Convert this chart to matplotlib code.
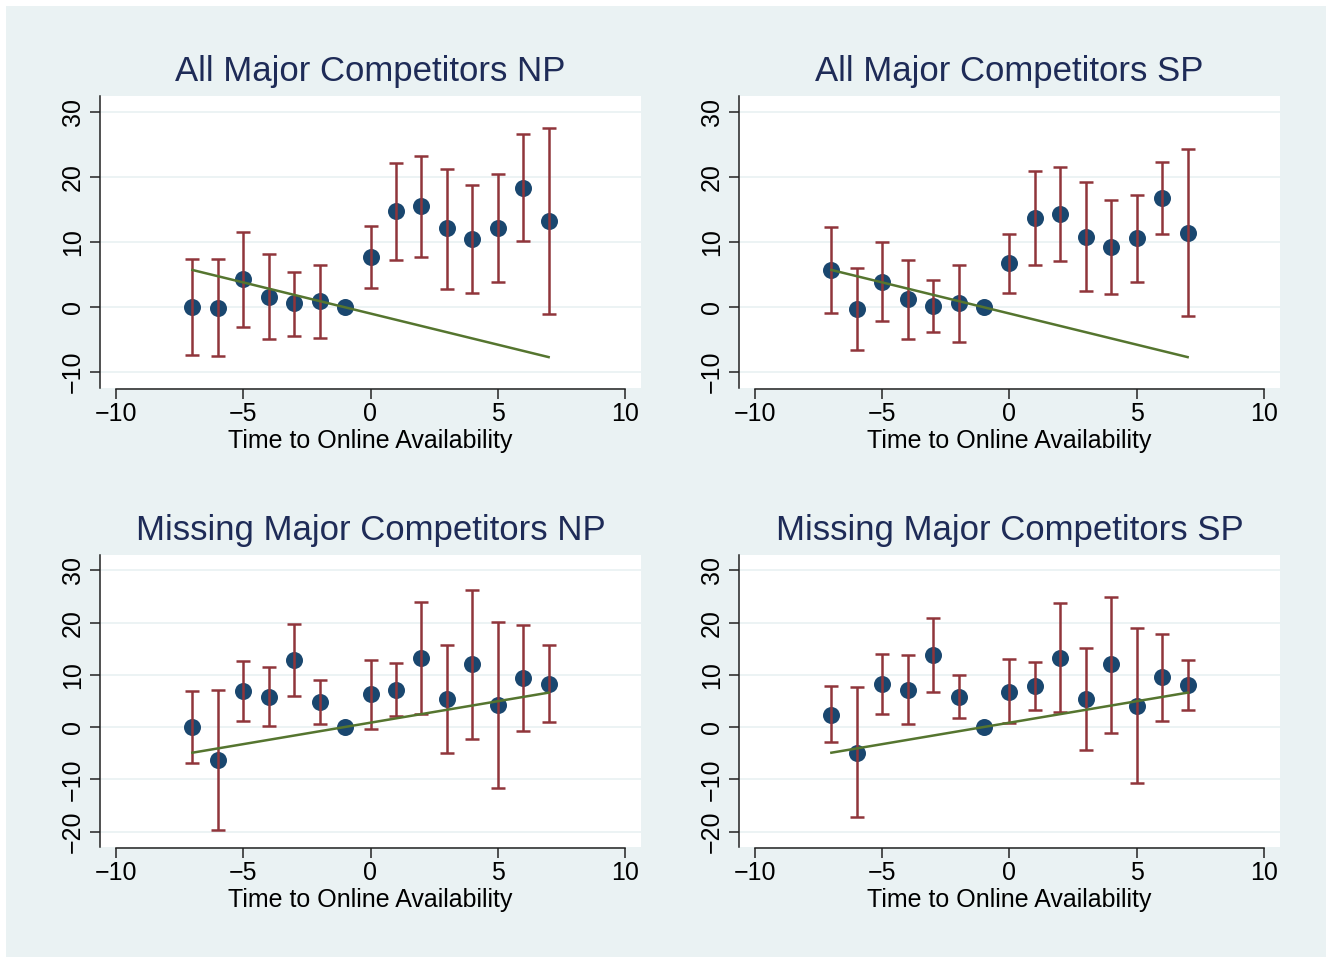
import matplotlib
matplotlib.use("Agg")
import matplotlib.pyplot as plt
import numpy as np

plt.rcParams['font.family'] = ['Liberation Sans', 'DejaVu Sans']

# ---------------- data ----------------
periods = [-7, -6, -5, -4, -3, -2, -1, 0, 1, 2, 3, 4, 5, 6, 7]

titles = ["All Major Competitors NP", "All Major Competitors SP",
          "Missing Major Competitors NP", "Missing Major Competitors SP"]

# panel 1: All Major Competitors NP
p1_est = [0.0, -0.1, 4.3, 1.6, 0.6, 0.9, 0.0, 7.7, 14.7, 15.5, 12.1, 10.4, 12.2, 18.3, 13.3]
p1_hi  = [7.4, 7.4, 11.6, 8.1, 5.4, 6.5, 0.0, 12.4, 22.1, 23.3, 21.3, 18.7, 20.4, 26.6, 27.5]
p1_lo  = [-7.3, -7.6, -3.0, -4.9, -4.4, -4.8, 0.0, 2.9, 7.3, 7.7, 2.8, 2.2, 3.8, 10.2, -1.0]

# panel 2: All Major Competitors SP
p2_est = [5.7, -0.3, 3.9, 1.2, 0.1, 0.6, 0.0, 6.7, 13.7, 14.3, 10.8, 9.2, 10.6, 16.8, 11.4]
p2_hi  = [12.3, 6.0, 10.0, 7.2, 4.2, 6.5, 0.0, 11.2, 20.9, 21.5, 19.2, 16.5, 17.2, 22.3, 24.3]
p2_lo  = [-0.9, -6.6, -2.1, -4.9, -3.9, -5.4, 0.0, 2.2, 6.4, 7.1, 2.4, 2.0, 3.9, 11.3, -1.4]

# panel 3: Missing Major Competitors NP
p3_est = [0.1, -6.2, 6.9, 5.8, 12.9, 4.8, 0.0, 6.3, 7.2, 13.2, 5.4, 12.1, 4.2, 9.4, 8.3]
p3_hi  = [7.0, 7.2, 12.7, 11.5, 19.8, 9.1, 0.0, 12.9, 12.3, 23.9, 15.8, 26.3, 20.1, 19.6, 15.7]
p3_lo  = [-6.8, -19.6, 1.1, 0.3, 6.0, 0.6, 0.0, -0.3, 2.2, 2.6, -4.9, -2.2, -11.6, -0.8, 0.9]

# panel 4: Missing Major Competitors SP
p4_est = [2.4, -4.9, 8.3, 7.2, 13.9, 5.8, 0.0, 6.8, 7.9, 13.3, 5.4, 12.0, 4.1, 9.5, 8.0]
p4_hi  = [7.8, 7.7, 14.0, 13.9, 20.9, 10.0, 0.0, 13.0, 12.4, 23.7, 15.2, 25.0, 18.9, 17.9, 12.9]
p4_lo  = [-2.9, -17.3, 2.6, 0.6, 6.8, 1.8, 0.0, 0.8, 3.3, 2.9, -4.4, -1.1, -10.7, 1.2, 3.2]

# linear trend lines (endpoints)
trend_x = [-7, 7]
trend_top = [5.7, -7.7]
trend_bottom = [-4.9, 6.6]

est = [p1_est, p2_est, p3_est, p4_est]
his = [p1_hi, p2_hi, p3_hi, p4_hi]
los = [p1_lo, p2_lo, p3_lo, p4_lo]
trends = [trend_top, trend_top, trend_bottom, trend_bottom]

x_ticks = [-10, -5, 0, 5, 10]
y_ticks_top = [-10, 0, 10, 20, 30]
y_ticks_bottom = [-20, -10, 0, 10, 20, 30]

# ---------------- style ----------------
BG = '#EAF2F3'
NAVY = '#1A476F'
MAROON = '#90353B'
GREEN = '#55752F'
TITLE = '#1E2B57'

W, H = 1332, 963
fig = plt.figure(figsize=(W / 100, H / 100), dpi=100)
fig.patch.set_facecolor('white')
# light background region with a thin white margin
fig.patches.append(plt.Rectangle((6 / W, 6 / H), 1 - 12 / W, 1 - 12 / H,
                                 transform=fig.transFigure, facecolor=BG,
                                 edgecolor='none', zorder=-10))

# axes boxes in pixel coordinates (left, top, right, bottom)
boxes = [(100, 96, 641, 388), (739, 96, 1280, 388),
         (100, 555, 641, 847), (739, 555, 1280, 847)]

for i in range(4):
    l, t, r, b = boxes[i]
    ax = fig.add_axes([l / W, 1 - b / H, (r - l) / W, (b - t) / H])
    ax.set_facecolor('white')
    x = np.array(periods)
    e = np.array(est[i])
    hi = np.array(his[i])
    lo = np.array(los[i])
    has_ci = hi != lo
    ax.scatter(x, e, s=150, color=NAVY, zorder=3, linewidths=0)
    ax.errorbar(x[has_ci], e[has_ci], yerr=[e[has_ci] - lo[has_ci], hi[has_ci] - e[has_ci]],
                fmt='none', ecolor=MAROON, elinewidth=1.8, capsize=4.7, capthick=1.8,
                zorder=4)
    ax.plot(trend_x, trends[i], color=GREEN, lw=1.8, zorder=5)

    ax.set_xlim(-10.63, 10.63)
    if i < 2:
        ax.set_ylim(-12.45, 32.45)
        yt = y_ticks_top
    else:
        ax.set_ylim(-22.95, 32.95)
        yt = y_ticks_bottom
    ax.set_yticks(yt)
    ax.set_yticklabels([str(v).replace('-', '\u2212') for v in yt],
                       rotation=90, va='center')
    ax.set_xticks(x_ticks)
    ax.set_xticklabels([str(v).replace('-', '\u2212') for v in x_ticks])
    for v in yt:
        ax.axhline(v, color=BG, lw=1.3, zorder=0)

    for s in ['top', 'right']:
        ax.spines[s].set_visible(False)
    ax.spines['left'].set_color('#222222')
    ax.spines['bottom'].set_color('#222222')
    ax.spines['left'].set_linewidth(1.1)
    ax.spines['bottom'].set_linewidth(1.1)
    ax.spines['bottom'].set_bounds(-10, 10)
    ax.spines['bottom'].set_position(('outward', 1))
    ax.tick_params(axis='both', length=7, width=1.1, color='#222222',
                   labelsize=18, labelcolor='black', pad=4)
    ax.tick_params(axis='x', pad=2)
    ax.set_xlabel('Time to Online Availability', fontsize=18, labelpad=2,
                  color='black')
    ax.set_title(titles[i], fontsize=25, color=TITLE, pad=11)

fig.savefig('out.png', dpi=100, facecolor=fig.get_facecolor())
